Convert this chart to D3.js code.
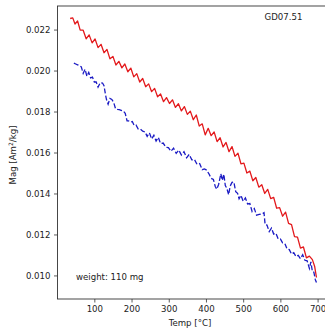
<!DOCTYPE html>
<html>
<head>
<meta charset="utf-8">
<script src="https://d3js.org/d3.v7.min.js"></script>
<style>
body { margin: 0; background: #fff; }
text { font-family: "DejaVu Sans", sans-serif; fill: #222; }
</style>
</head>
<body>
<div id="chart-area"></div>
<script>
// heating curve (red, solid)
var redTemp = [35,42,48,55,62,70,78,86,94,102,110,118,126,134,142,150,158,166,174,182,190,198,206,214,222,230,238,246,254,262,270,278,286,294,302,310,318,326,334,342,350,358,366,374,382,390,398,406,414,422,430,438,446,454,462,470,478,486,494,502,510,518,526,534,542,550,558,566,574,582,590,598,606,614,622,630,638,646,654,662,670,678,686,692,697];
var redMag = [0.02254,0.02257,0.02227,0.02242,0.02197,0.02197,0.02155,0.02174,0.02135,0.02154,0.02112,0.02128,0.02087,0.02103,0.02057,0.02069,0.02027,0.02045,0.02013,0.02032,0.01994,0.02012,0.01969,0.01985,0.01944,0.01961,0.01921,0.01935,0.01897,0.01913,0.01872,0.01886,0.01848,0.01868,0.01839,0.01857,0.01820,0.01838,0.01803,0.01824,0.01786,0.01802,0.01760,0.01783,0.01729,0.01740,0.01686,0.01718,0.01682,0.01700,0.01653,0.01672,0.01627,0.01649,0.01604,0.01629,0.01581,0.01597,0.01545,0.01548,0.01500,0.01509,0.01462,0.01478,0.01431,0.01443,0.01400,0.01420,0.01375,0.01381,0.01328,0.01331,0.01289,0.01309,0.01254,0.01248,0.01189,0.01187,0.01133,0.01139,0.01086,0.01094,0.01077,0.01045,0.00990];

// cooling curve (blue, dashed)
var blueTemp = [45,50,55,60,65,70,75,80,85,90,95,100,105,110,116,122,126,130,133,137,142,147,152,157,162,167,172,178,183,188,192,197,202,207,212,218,224,230,236,242,248,254,260,266,272,278,285,292,299,306,313,320,327,334,341,348,355,362,369,376,383,390,396,402,408,414,420,425,429,434,440,444,448,452,456,461,465,470,475,480,485,489,494,500,506,512,518,524,530,536,543,550,556,559,564,570,576,582,588,594,600,606,612,618,624,630,636,642,648,654,660,666,672,678,682,686,690,694,697];
var blueMag = [0.02036,0.02032,0.02028,0.02024,0.02018,0.01986,0.02006,0.01972,0.01991,0.01964,0.01968,0.01944,0.01944,0.01919,0.01941,0.01939,0.01926,0.01882,0.01856,0.01836,0.01864,0.01859,0.01844,0.01814,0.01811,0.01809,0.01806,0.01802,0.01791,0.01754,0.01754,0.01749,0.01751,0.01732,0.01734,0.01714,0.01714,0.01704,0.01701,0.01679,0.01696,0.01666,0.01684,0.01656,0.01674,0.01644,0.01646,0.01626,0.01624,0.01606,0.01621,0.01596,0.01612,0.01588,0.01604,0.01574,0.01591,0.01564,0.01566,0.01542,0.01546,0.01516,0.01520,0.01514,0.01496,0.01474,0.01468,0.01434,0.01421,0.01444,0.01496,0.01464,0.01494,0.01439,0.01426,0.01394,0.01436,0.01454,0.01456,0.01409,0.01401,0.01374,0.01391,0.01362,0.01378,0.01349,0.01351,0.01312,0.01326,0.01294,0.01298,0.01299,0.01306,0.01248,0.01246,0.01214,0.01231,0.01202,0.01206,0.01179,0.01178,0.01159,0.01156,0.01129,0.01126,0.01104,0.01111,0.01092,0.01098,0.01082,0.01101,0.01074,0.01071,0.01034,0.01066,0.01019,0.01016,0.00979,0.00966];

var xTicks = [100,200,300,400,500,600,700];
var yTicks = [0.010,0.012,0.014,0.016,0.018,0.020,0.022];

var margin = {left:57.5, top:6, bottom:32, right:0};
var width = 325 - margin.left - margin.right + 3;
var height = 331 - margin.top - margin.bottom;

var svg = d3.select("#chart-area")
    .append("svg")
        .attr("width", 325)
        .attr("height", 331);

var g = svg.append("g")
    .attr("transform", "translate(" + margin.left + ", " + margin.top + ")");

//x scale
var x = d3.scaleLinear()
    .domain([1, 728])
    .range([0, width]);

//y scale
var y = d3.scaleLinear()
    .domain([0.00885, 0.02315])
    .range([height, 0]);

var xAxisCall = d3.axisBottom(x)
    .tickValues(xTicks)
    .tickSize(3.5)
    .tickPadding(3.5)
    .tickFormat(d3.format("d"));
var xAxis = g.append("g")
    .attr("transform", "translate(0, " + height + ")")
    .call(xAxisCall);

var yAxisCall = d3.axisLeft(y)
    .tickValues(yTicks)
    .tickSize(3.5)
    .tickPadding(3.5)
    .tickFormat(d3.format(".3f"));
var yAxis = g.append("g")
    .call(yAxisCall);

[xAxis, yAxis].forEach(function(a){
    a.select(".domain").remove();
    a.selectAll("line").attr("stroke", "#333").attr("stroke-width", 0.8);
    a.selectAll("text").attr("font-size", "8.6px").attr("fill", "#222")
        .attr("font-family", "DejaVu Sans, sans-serif");
});

// frame
g.append("rect")
    .attr("x", 0).attr("y", 0)
    .attr("width", width).attr("height", height)
    .attr("fill", "none")
    .attr("stroke", "#333")
    .attr("stroke-width", 0.9);

var line = d3.line()
    .x(function(d){ return x(d[0]); })
    .y(function(d){ return y(d[1]); });

g.append("path")
    .datum(d3.zip(redTemp, redMag))
    .attr("d", line)
    .attr("fill", "none")
    .attr("stroke", "#e3191c")
    .attr("stroke-width", 1.3)
    .attr("stroke-linejoin", "round");

g.append("path")
    .datum(d3.zip(blueTemp, blueMag))
    .attr("d", line)
    .attr("fill", "none")
    .attr("stroke", "#1b1bc4")
    .attr("stroke-width", 1.3)
    .attr("stroke-dasharray", "5,2.2");

// labels
g.append("text")
    .attr("x", 207)
    .attr("y", 14)
    .attr("font-size", "8.6px")
    .text("GD07.51");

g.append("text")
    .attr("x", 18.5)
    .attr("y", 274)
    .attr("font-size", "8.6px")
    .text("weight: 110 mg");

svg.append("text")
    .attr("x", 190)
    .attr("y", 326)
    .attr("text-anchor", "middle")
    .attr("font-size", "8.6px")
    .text("Temp [°C]");

var yl = svg.append("text")
    .attr("transform", "translate(16, 155) rotate(-90)")
    .attr("text-anchor", "middle")
    .attr("font-size", "8.6px");
yl.append("tspan").text("Mag [Am");
yl.append("tspan").attr("dy", -3).attr("font-size", "6px").text("2");
yl.append("tspan").attr("dy", 3).text("/kg]");
</script>
</body>
</html>
